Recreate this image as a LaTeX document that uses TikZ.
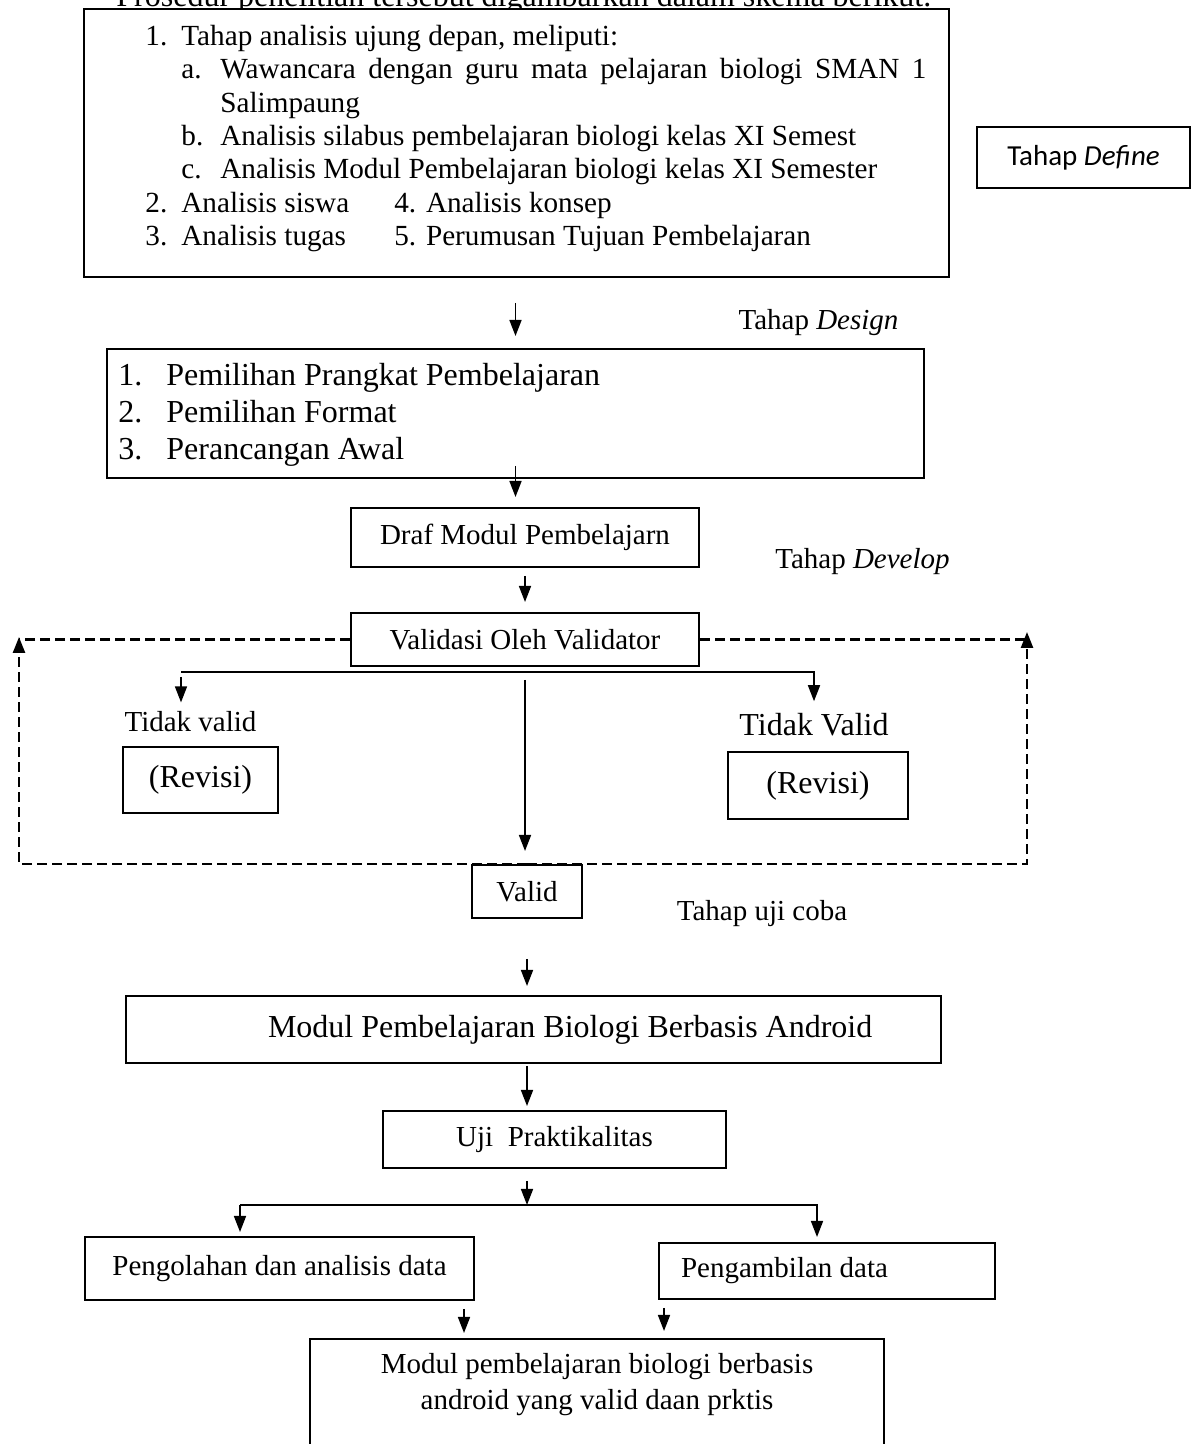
\documentclass[tikz,border=0pt]{standalone}
\usepackage{fontspec}
\setmainfont{Liberation Serif}
\newfontfamily\calibri{Carlito}
\usetikzlibrary{arrows.meta}
\begin{document}
\begin{tikzpicture}
  [x=50pt,y=50pt,>={Triangle[length=8pt,width=6pt]},
   every node/.style={inner sep=0pt,font=\fontsize{14.5}{16.7}\selectfont},
   box/.style={draw,line width=1pt,fill=white},
   big/.style={font=\fontsize{16}{18.5}\selectfont},
   arr/.style={line width=.8pt,->},
   dashline/.style={line width=1.2pt,dash pattern=on 5pt off 2.5pt}]
  \useasboundingbox (0,0) rectangle (11.92,14.44);
  \node[anchor=base west,big] (judul) at (1.16,14.37) {Prosedur penelitian tersebut digambarkan dalam skema berikut.};
  \node[box,minimum width=432.5pt,minimum height=134pt] (define) at (5.165,13.01) {};
  \node[anchor=north west,align=left,font=\fontsize{14.6}{16.67}\selectfont] (deflist) at (1.45,14.19)
    {\makebox[18pt][l]{1.}Tahap analisis ujung depan, meliputi:\\
     \hspace*{18pt}\makebox[19.5pt][l]{a.}\makebox[353pt][s]{Wawancara dengan guru mata pelajaran biologi SMAN 1}\\
     \hspace*{37.5pt}Salimpaung\\
     \hspace*{18pt}\makebox[19.5pt][l]{b.}Analisis silabus pembelajaran biologi kelas XI Semest\\
     \hspace*{18pt}\makebox[19.5pt][l]{c.}Analisis Modul Pembelajaran biologi kelas XI Semester\\
     \makebox[18pt][l]{2.}\makebox[106.5pt][l]{Analisis siswa}4. Analisis konsep\\
     \makebox[18pt][l]{3.}\makebox[106.5pt][l]{Analisis tugas}5. Perumusan Tujuan Pembelajaran};
  \node[box,line width=.8pt,minimum width=106.5pt,minimum height=30.5pt,font=\calibri\fontsize{14.5}{17}\selectfont] (deflabel) at (10.835,12.865) {Tahap \textit{Define}};
  \node (designlabel) at (8.185,11.21) {Tahap \textit{Design}};
  \node[box,minimum width=408.5pt,minimum height=64.5pt] (design) at (5.155,10.305) {};
  \node[anchor=north west,align=left,big] (designlist) at (1.18,10.81)
    {\makebox[24pt][l]{1.}Pemilihan Prangkat Pembelajaran\\
     \makebox[24pt][l]{2.}Pemilihan Format\\
     \makebox[24pt][l]{3.}Perancangan Awal};
  \node[box,minimum width=174pt,minimum height=29.5pt] (draf) at (5.25,9.065) {Draf Modul Pembelajarn};
  \node (developlabel) at (8.625,8.82) {Tahap \textit{Develop}};
  \node[box,minimum width=174pt,minimum height=26.5pt] (validasi) at (5.25,8.045) {Validasi Oleh Validator};
  \node (tvl) at (1.905,7.22) {Tidak valid};
  \node[box,big,minimum width=77.5pt,minimum height=33pt] (revl) at (2.005,6.64) {(Revisi)};
  \node[big] (tvr) at (8.14,7.19) {Tidak Valid};
  \node[box,big,minimum width=90pt,minimum height=33.5pt] (revr) at (8.18,6.585) {(Revisi)};
  \node[box,minimum width=55pt,minimum height=26.5pt] (valid) at (5.27,5.525) {Valid};
  \node (ujilabel) at (7.62,5.30) {Tahap uji coba};
  \node[box,big,minimum width=407.5pt,minimum height=33.5pt] (android) at (5.335,4.145)
    {\makebox[407.5pt][l]{\hspace{71pt}Modul Pembelajaran Biologi Berbasis Android}};
  \node[box,minimum width=171.5pt,minimum height=28.5pt] (uji) at (5.545,3.045) {Uji\ \ Praktikalitas};
  \node[box,minimum width=194.5pt,minimum height=31.5pt] (olah) at (2.795,1.755) {Pengolahan dan analisis data};
  \node[box,minimum width=168pt,minimum height=28pt] (ambil) at (8.27,1.73)
    {\makebox[168pt][l]{\hspace{11pt}Pengambilan data}};
  \node[box,minimum width=287pt,minimum height=70pt,anchor=north] (hasil) at (5.97,1.06) {};
  \node[align=center,font=\fontsize{14.5}{18}\selectfont] (hasiltxt) at (5.97,0.59)
    {Modul pembelajaran biologi berbasis\\android yang valid daan prktis};
  \coordinate (cabang) at (1.81,7.72);
  \coordinate (ltip) at (0.19,8.07);
  \coordinate (rtip) at (10.27,8.12);
  \coordinate (cabang2) at (2.40,2.39);
  \coordinate (cabang2r) at (8.17,2.39);
  \draw[arr,shorten <=12.5pt,shorten >=6pt] (define.south -| design.north) -- (design.north);
  \draw[arr,shorten <=-6.5pt,shorten >=5pt] (design.south) -- (design.south |- draf.north);
  \draw[arr,shorten <=4pt,shorten >=5pt] (draf.south) -- (validasi.north);
  \draw[arr,shorten >=6pt] (cabang) -| (tvr.north);
  \draw[arr,shorten <=2.5pt,shorten >=4.5pt] (cabang) -- (cabang |- tvl.north);
  \draw[arr,shorten <=6.5pt,shorten >=6.5pt] (validasi.south) -- (validasi.south |- valid.north);
  \draw[dashline,->] (valid.north) -| (ltip);
  \draw[dashline,->] (valid.north) -| (rtip);
  \draw[dashline] (validasi.west) -- (validasi.west -| ltip);
  \draw[dashline] (validasi.east) -- (validasi.east -| rtip);
  \draw[arr,shorten <=20pt,shorten >=4.5pt] (valid.south) -- (valid.south |- android.north);
  \draw[arr,shorten <=1pt,shorten >=2pt] (valid.south |- android.south) -- (valid.south |- uji.north);
  \draw[arr,shorten <=6pt] (valid.south |- uji.south) -- (valid.south |- cabang2);
  \draw[arr,shorten >=2pt] (cabang2) -- (cabang2 |- olah.north);
  \draw[arr,shorten >=2.5pt] (cabang2) -- (cabang2r) -- (cabang2r |- ambil.north);
  \draw[arr,shorten <=4pt,shorten >=2.5pt] ([xshift=-5.5pt]olah.south east) -- ([xshift=-5.5pt]olah.south east |- hasil.north);
  \draw[arr,shorten <=4pt,shorten >=3.5pt] ([xshift=3pt]ambil.south west) -- ([xshift=3pt]ambil.south west |- hasil.north);
\end{tikzpicture}
\end{document}
